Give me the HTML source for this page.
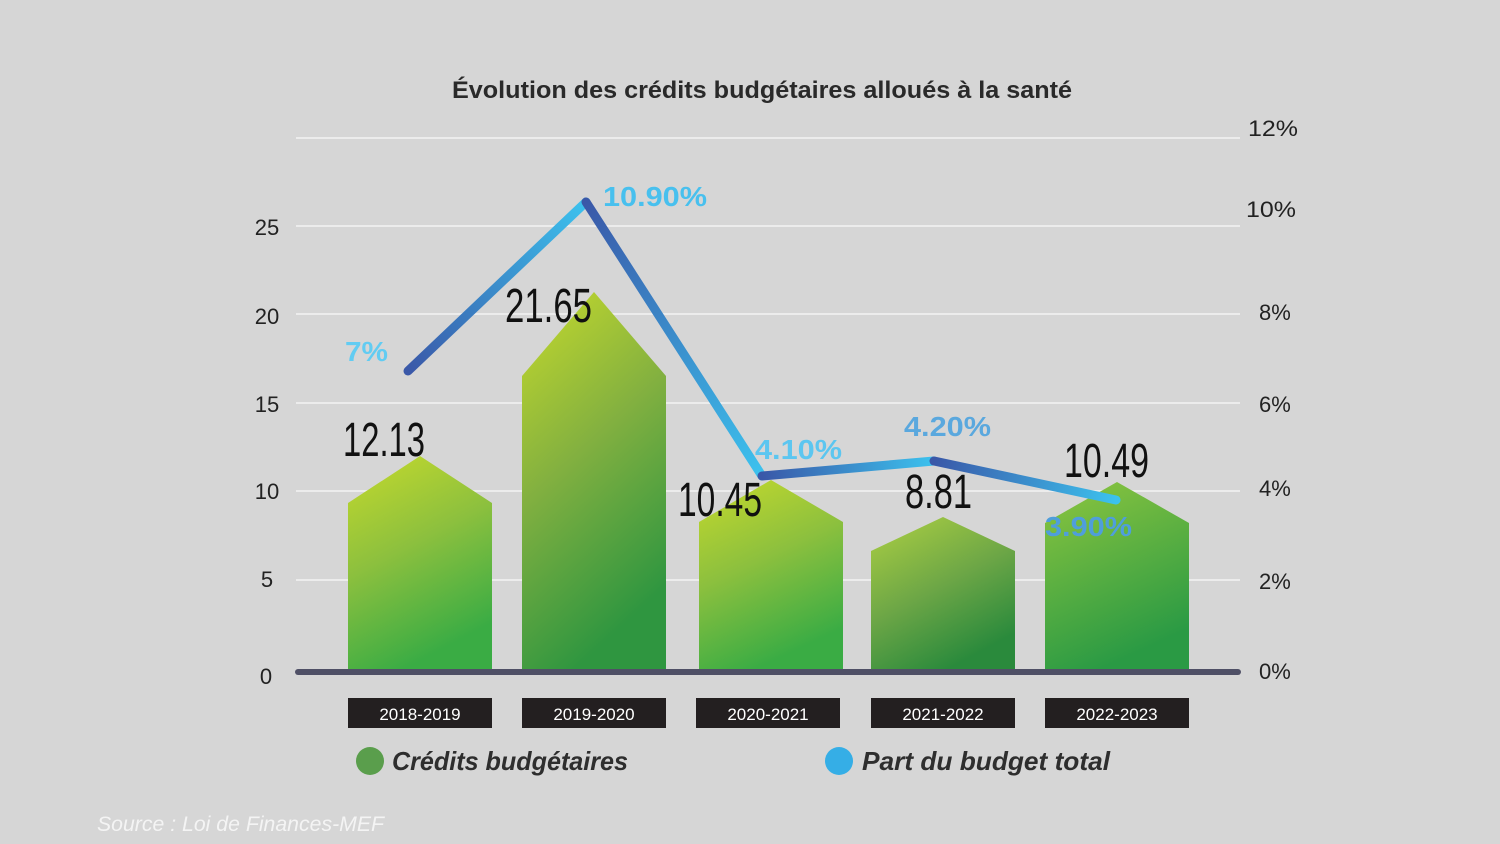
<!DOCTYPE html>
<html><head><meta charset="utf-8"><style>
html,body{margin:0;padding:0;background:#d6d6d6;}
svg{display:block;}
</style></head><body>
<svg width="1500" height="844" viewBox="0 0 1500 844" xmlns="http://www.w3.org/2000/svg" font-family="Liberation Sans, sans-serif">
<defs>
<linearGradient id="gb" x1="0" y1="0" x2="0.35" y2="1">
<stop offset="0" stop-color="#c6da2c"/><stop offset="0.5" stop-color="#8cc03e"/><stop offset="1" stop-color="#3aac44"/></linearGradient>
<linearGradient id="gb2" x1="0" y1="0" x2="0.35" y2="1">
<stop offset="0" stop-color="#c6da2c"/><stop offset="0.5" stop-color="#82b040"/><stop offset="1" stop-color="#2f9640"/></linearGradient>
<linearGradient id="gb4" x1="0" y1="0" x2="0.5" y2="1">
<stop offset="0" stop-color="#aed042"/><stop offset="0.55" stop-color="#6ca646"/><stop offset="1" stop-color="#2a8a3c"/></linearGradient>
<linearGradient id="gb5" x1="0" y1="0" x2="0.35" y2="1">
<stop offset="0" stop-color="#8ec63e"/><stop offset="1" stop-color="#2a9a44"/></linearGradient>
<linearGradient id="l1" gradientUnits="userSpaceOnUse" x1="408" y1="371" x2="586" y2="202"><stop offset="0" stop-color="#3a58a8"/><stop offset="1" stop-color="#3cc2ee"/></linearGradient>
<linearGradient id="l2" gradientUnits="userSpaceOnUse" x1="586" y1="202" x2="762" y2="476"><stop offset="0" stop-color="#3a58a8"/><stop offset="1" stop-color="#3cc2ee"/></linearGradient>
<linearGradient id="l3" gradientUnits="userSpaceOnUse" x1="762" y1="476" x2="934" y2="461"><stop offset="0" stop-color="#3a58a8"/><stop offset="1" stop-color="#3cc2ee"/></linearGradient>
<linearGradient id="l4" gradientUnits="userSpaceOnUse" x1="934" y1="461" x2="1116" y2="500"><stop offset="0" stop-color="#3a58a8"/><stop offset="1" stop-color="#3cc2ee"/></linearGradient>
</defs>
<text x="452" y="98" font-size="24" font-weight="bold" fill="#2a2a2a" textLength="620" lengthAdjust="spacingAndGlyphs">Évolution des crédits budgétaires alloués à la santé</text>
<g stroke="#ececec" stroke-width="2">
<line x1="296" y1="138" x2="1240" y2="138"/><line x1="296" y1="226" x2="1240" y2="226"/>
<line x1="296" y1="314" x2="1240" y2="314"/><line x1="296" y1="403" x2="1240" y2="403"/>
<line x1="296" y1="491" x2="1240" y2="491"/><line x1="296" y1="580" x2="1240" y2="580"/>
</g>
<g font-size="22" fill="#222" text-anchor="middle">
<text x="267" y="235">25</text><text x="267" y="324">20</text><text x="267" y="412">15</text>
<text x="267" y="499">10</text><text x="267" y="587">5</text><text x="266" y="684">0</text>
</g>
<g font-size="22" fill="#222">
<text x="1248" y="136" textLength="50" lengthAdjust="spacingAndGlyphs">12%</text><text x="1246" y="217" textLength="50" lengthAdjust="spacingAndGlyphs">10%</text><text x="1259" y="320">8%</text>
<text x="1259" y="412">6%</text><text x="1259" y="496">4%</text><text x="1259" y="589">2%</text><text x="1259" y="679">0%</text>
</g>
<polygon points="348,503 420,456 492,503 492,672 348,672" fill="url(#gb)"/>
<polygon points="522,376 594,292 666,376 666,672 522,672" fill="url(#gb2)"/>
<polygon points="699,522 771,480 843,522 843,672 699,672" fill="url(#gb)"/>
<polygon points="871,551 943,517 1015,551 1015,672 871,672" fill="url(#gb4)"/>
<polygon points="1045,523 1117,482 1189,523 1189,672 1045,672" fill="url(#gb5)"/>
<line x1="298" y1="672" x2="1238" y2="672" stroke="#4f5066" stroke-width="6" stroke-linecap="round"/>
<g stroke-width="9" stroke-linecap="round">
<line x1="408" y1="371" x2="586" y2="202" stroke="url(#l1)"/>
<line x1="586" y1="202" x2="762" y2="476" stroke="url(#l2)"/>
<line x1="762" y1="476" x2="934" y2="461" stroke="url(#l3)"/>
<line x1="934" y1="461" x2="1116" y2="500" stroke="url(#l4)"/>
</g>
<g font-size="48" fill="#111" font-family="Liberation Sans Narrow, Liberation Sans, sans-serif">
<text x="343" y="456" textLength="82" lengthAdjust="spacingAndGlyphs">12.13</text>
<text x="505" y="322" textLength="87" lengthAdjust="spacingAndGlyphs">21.65</text>
<text x="678" y="516" textLength="84" lengthAdjust="spacingAndGlyphs">10.45</text>
<text x="905" y="508" textLength="67" lengthAdjust="spacingAndGlyphs">8.81</text>
<text x="1064" y="477" textLength="85" lengthAdjust="spacingAndGlyphs">10.49</text>
</g>
<g font-size="28" font-weight="bold">
<text x="345" y="361" fill="#62ccf2" textLength="43" lengthAdjust="spacingAndGlyphs">7%</text>
<text x="603" y="206" fill="#48c0ee" textLength="104" lengthAdjust="spacingAndGlyphs">10.90%</text>
<text x="755" y="459" fill="#5cc6f0" textLength="87" lengthAdjust="spacingAndGlyphs">4.10%</text>
<text x="904" y="436" fill="#5aa8de" textLength="87" lengthAdjust="spacingAndGlyphs">4.20%</text>
<text x="1045" y="536" fill="#4f9edb" textLength="87" lengthAdjust="spacingAndGlyphs">3.90%</text>
</g>
<g>
<rect x="348" y="698" width="144" height="30" fill="#231f20"/>
<rect x="522" y="698" width="144" height="30" fill="#231f20"/>
<rect x="696" y="698" width="144" height="30" fill="#231f20"/>
<rect x="871" y="698" width="144" height="30" fill="#231f20"/>
<rect x="1045" y="698" width="144" height="30" fill="#231f20"/>
</g>
<g font-size="17" fill="#fff" text-anchor="middle">
<text x="420" y="720">2018-2019</text><text x="594" y="720">2019-2020</text>
<text x="768" y="720">2020-2021</text><text x="943" y="720">2021-2022</text>
<text x="1117" y="720">2022-2023</text>
</g>
<circle cx="370" cy="761" r="14" fill="#5a9e4c"/>
<circle cx="839" cy="761" r="14" fill="#35aee6"/>
<g font-size="26" font-weight="bold" font-style="italic" fill="#2e2e2e">
<text x="392" y="770" textLength="236" lengthAdjust="spacingAndGlyphs">Crédits budgétaires</text>
<text x="862" y="770" textLength="248" lengthAdjust="spacingAndGlyphs">Part du budget total</text>
</g>
<text x="97" y="831" font-size="21" font-style="italic" fill="#f4f4f4" textLength="287" lengthAdjust="spacingAndGlyphs">Source : Loi de Finances-MEF</text>
</svg>
</body></html>
